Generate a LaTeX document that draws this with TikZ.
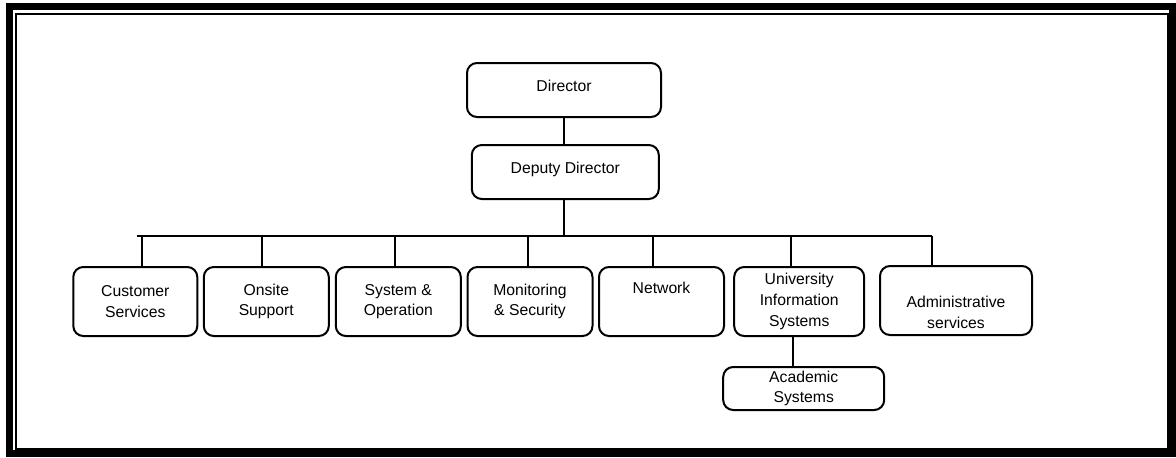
\documentclass[tikz,border=0pt]{standalone}
\usepackage{fontspec}
\setmainfont{Liberation Sans}
\begin{document}
\begin{tikzpicture}[x=0.75pt,y=-0.75pt,
  box/.style={draw,line width=1.5pt,rounded corners=7.5pt,inner sep=0pt,align=center,
    font=\fontsize{11.8}{15.5}\selectfont},
  link/.style={line width=1.5pt},
  high/.style={text height=9pt,text depth=7pt}]
\useasboundingbox (0,0) rectangle (1176,457);
% frame
\draw[line width=5.25pt] (9.5,6.5) rectangle (1172.5,453.5);
\draw[line width=1.5pt] (16,13.5) rectangle (1167.5,448.5);
% top
\node[box,high,minimum width=194*0.75pt,minimum height=54*0.75pt] (dir) at (564,90) {Director};
\node[box,high,minimum width=187*0.75pt,minimum height=54*0.75pt] (dep) at (565.3,172) {Deputy Director};
% bottom row
\tikzset{row/.style={box,minimum height=69*0.75pt}}
\node[row,minimum width=124*0.75pt] (cs) at (135.3,301.5) {Customer\\Services};
\node[row,minimum width=125*0.75pt] (os) at (266.3,301.5) {Onsite\\Support};
\node[row,minimum width=125*0.75pt] (so) at (398.3,301.5) {System \&\\Operation};
\node[row,minimum width=125*0.75pt] (ms) at (530,301.5) {Monitoring\\\& Security};
\node[row,minimum width=125*0.75pt] (nw) at (661.5,301.5) {Network\\\strut};
\node[row,minimum width=130*0.75pt] (uis) at (799.2,301.5) {University\\Information\\Systems};
\node[row,minimum width=152*0.75pt] (adm) at (956,300.5) {\strut\\Administrative\\services};
\node[box,minimum width=161*0.75pt,minimum height=43*0.75pt] (acad) at (803.7,388.5) {Academic\\Systems};
% connectors
\coordinate (busL) at (136.5,235.5);
\coordinate (busR) at (932,235.5);
\draw[link] (dir.south -| 564.3,0) -- (dep.north -| 564.3,0);
\draw[link] (dep.south -| 563.5,0) -- (563.5,235.5);
\draw[link] (busL) -- (busR);
\foreach \xx/\nn in {142/cs,262/os,395/so,528/ms,653.3/nw,790.8/uis,932/adm}{
  \draw[link] (\xx,235.5) -- (\nn.north -| \xx,0);
}
\draw[link] (uis.south -| 792.7,0) -- (acad.north -| 792.7,0);
\end{tikzpicture}
\end{document}
